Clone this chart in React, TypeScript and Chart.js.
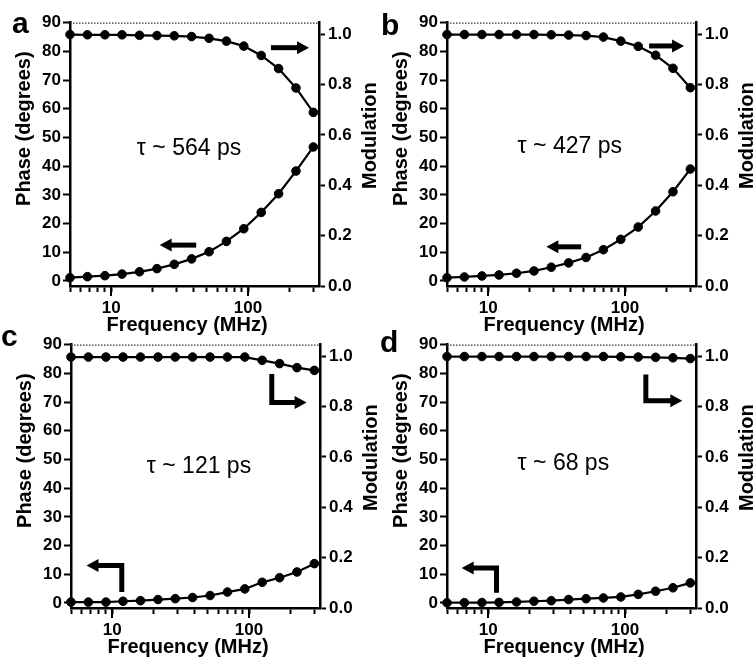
import React, { useEffect, useRef } from 'react';
import { Chart, registerables } from 'chart.js';
Chart.register(...registerables);

// ---------- data ----------
const FREQ_MHZ = [5, 6.7, 9, 12, 16.1, 21.6, 28.9, 38.7, 51.9, 69.5, 93.1, 124.8, 167.2, 224, 300];

const PHASE_A = [1.15, 1.5, 1.85, 2.4, 3.2, 4.3, 5.8, 7.7, 10.2, 13.8, 18.2, 23.9, 30.4, 38.3, 46.7];
const MOD_A = [0.998, 0.997, 0.997, 0.997, 0.995, 0.994, 0.993, 0.99, 0.983, 0.972, 0.952, 0.915, 0.863, 0.786, 0.689];

const PHASE_B = [1.15, 1.4, 1.75, 2.1, 2.7, 3.5, 4.8, 6.3, 8.2, 10.9, 14.5, 18.8, 24.4, 31.1, 39.0];
const MOD_B = [0.998, 0.998, 0.998, 0.998, 0.998, 0.998, 0.997, 0.996, 0.994, 0.988, 0.972, 0.951, 0.916, 0.864, 0.787];

const PHASE_C = [0.3, 0.3, 0.3, 0.6, 0.8, 1.2, 1.5, 1.9, 2.6, 3.8, 4.9, 7.2, 8.8, 10.8, 13.7];
const MOD_C = [0.996, 0.996, 0.996, 0.996, 0.996, 0.996, 0.996, 0.996, 0.996, 0.996, 0.996, 0.983, 0.97, 0.954, 0.943];

const PHASE_D = [0.1, 0.1, 0.15, 0.2, 0.35, 0.6, 0.8, 1.2, 1.5, 1.75, 2.1, 3.0, 4.1, 5.3, 7.0];
const MOD_D = [0.998, 0.998, 0.998, 0.998, 0.998, 0.998, 0.998, 0.998, 0.998, 0.998, 0.997, 0.996, 0.995, 0.993, 0.99];

const PHASE_TICKS = [0, 10, 20, 30, 40, 50, 60, 70, 80, 90];
const MOD_TICKS = [0, 0.2, 0.4, 0.6, 0.8, 1.0];
const FREQ_TICKS = [5, 6, 7, 8, 9, 10, 20, 30, 40, 50, 60, 70, 80, 90, 100, 200, 300];
const FREQ_LABELS = [10, 100];

const LETTERS = ['a', 'b', 'c', 'd'];
const LIFETIMES = ['τ ~ 564 ps', 'τ ~ 427 ps', 'τ ~ 121 ps', 'τ ~ 68 ps'];
// text anchor in [frequency, phase]
const TAU_POS = [[15.4, 43.9], [16.4, 44.6], [17.9, 45.2], [16.4, 46.3]];

// arrows as polylines in [frequency, phase]; last point is the tip
const ARROWS_A = [[[147, 81.3], [279, 81.3]], [[41.8, 12.5], [22.6, 12.5]]];
const ARROWS_B = [[[150, 81.9], [270, 81.9]], [[47.8, 11.9], [26.6, 11.9]]];
const ARROWS_C = [[[146.6, 79.8], [146.6, 69.9], [263.6, 69.9]], [[11.75, 3.8], [11.75, 13.1], [6.49, 13.1]]];
const ARROWS_D = [[[141.9, 79.6], [141.9, 70.5], [262, 70.5]], [[11.5, 3.6], [11.5, 12.2], [6.4, 12.2]]];

const FONT = "'Liberation Sans', Arial, Helvetica, sans-serif";

const CANVAS_W = 385;
const CANVAS_H = 340;

type PanelDef = {
  letter: string;
  letterPos: [number, number];
  tau: string;
  tauPos: number[];
  phase: number[];
  mod: number[];
  arrows: number[][][];
  left: number;
  top: number;
};

const PANELS: PanelDef[] = [
  { letter: LETTERS[0], letterPos: [12, 33], tau: LIFETIMES[0], tauPos: TAU_POS[0], phase: PHASE_A, mod: MOD_A, arrows: ARROWS_A, left: 0, top: 0 },
  { letter: LETTERS[1], letterPos: [4, 35], tau: LIFETIMES[1], tauPos: TAU_POS[1], phase: PHASE_B, mod: MOD_B, arrows: ARROWS_B, left: 377, top: 0 },
  { letter: LETTERS[2], letterPos: [0, 24], tau: LIFETIMES[2], tauPos: TAU_POS[2], phase: PHASE_C, mod: MOD_C, arrows: ARROWS_C, left: 1, top: 322 },
  { letter: LETTERS[3], letterPos: [3, 30], tau: LIFETIMES[3], tauPos: TAU_POS[3], phase: PHASE_D, mod: MOD_D, arrows: ARROWS_D, left: 377, top: 322 },
];

function overlayPlugin(p: PanelDef) {
  return {
    id: 'overlay' + p.letter,
    afterDraw(chart: any) {
      const { ctx, chartArea: ca, scales } = chart;
      const xs = scales.x;
      const ys = scales.y;
      ctx.save();
      // dotted top frame
      ctx.strokeStyle = '#333';
      ctx.lineWidth = 1.3;
      ctx.setLineDash([1.5, 1.5]);
      ctx.beginPath();
      ctx.moveTo(ca.left, ca.top + 0.5);
      ctx.lineTo(ca.right, ca.top + 0.5);
      ctx.stroke();
      ctx.setLineDash([]);
      // longer major x ticks
      ctx.strokeStyle = '#000';
      ctx.lineWidth = 2;
      FREQ_LABELS.forEach((v) => {
        const px = Math.round(xs.getPixelForValue(v));
        ctx.beginPath();
        ctx.moveTo(px, ca.bottom);
        ctx.lineTo(px, ca.bottom + 10);
        ctx.stroke();
      });
      // axis titles
      ctx.fillStyle = '#000';
      ctx.font = `bold 20px ${FONT}`;
      ctx.textAlign = 'center';
      ctx.textBaseline = 'alphabetic';
      ctx.fillText('Frequency (MHz)', ca.left + 117, ca.bottom + 45);
      ctx.save();
      ctx.translate(ca.left - 40, ca.top + 106);
      ctx.rotate(-Math.PI / 2);
      ctx.fillText('Phase (degrees)', 0, 0);
      ctx.restore();
      ctx.save();
      ctx.translate(ca.right + 57, ca.top + 113);
      ctx.rotate(-Math.PI / 2);
      ctx.fillText('Modulation', 0, 0);
      ctx.restore();
      // panel letter
      ctx.font = `bold 30px ${FONT}`;
      ctx.textAlign = 'left';
      ctx.fillText(p.letter, p.letterPos[0], p.letterPos[1]);
      // lifetime text
      ctx.font = `23px ${FONT}`;
      ctx.fillText(p.tau, xs.getPixelForValue(p.tauPos[0]), ys.getPixelForValue(p.tauPos[1]));
      // arrows
      ctx.lineWidth = 5;
      ctx.lineCap = 'butt';
      ctx.lineJoin = 'miter';
      p.arrows.forEach((arr) => {
        const pts = arr.map(([f, ph]) => [xs.getPixelForValue(f), ys.getPixelForValue(ph)]);
        const n = pts.length;
        const tip = pts[n - 1];
        const prev = pts[n - 2];
        const dx = tip[0] - prev[0];
        const dy = tip[1] - prev[1];
        const len = Math.hypot(dx, dy) || 1;
        const ux = dx / len;
        const uy = dy / len;
        const HEAD = 12;
        const HALF = 6.5;
        const base = [tip[0] - ux * HEAD, tip[1] - uy * HEAD];
        ctx.beginPath();
        ctx.moveTo(pts[0][0], pts[0][1]);
        for (let i = 1; i < n - 1; i++) ctx.lineTo(pts[i][0], pts[i][1]);
        ctx.lineTo(base[0] + ux * 1, base[1] + uy * 1);
        ctx.stroke();
        ctx.beginPath();
        ctx.moveTo(tip[0], tip[1]);
        ctx.lineTo(base[0] - uy * HALF, base[1] + ux * HALF);
        ctx.lineTo(base[0] + uy * HALF, base[1] - ux * HALF);
        ctx.closePath();
        ctx.fill();
      });
      ctx.restore();
    },
  };
}

function Panel({ p }: { p: PanelDef }) {
  const ref = useRef<HTMLCanvasElement | null>(null);
  useEffect(() => {
    if (!ref.current) return;
    const tickFont = { family: FONT, size: 17, weight: 'bold' as const };
    const axisCommon = {
      border: { display: true, color: '#000', width: 2.5 },
    };
    const chart = new Chart(ref.current, {
      type: 'line',
      data: {
        datasets: [
          {
            label: 'Phase',
            data: FREQ_MHZ.map((f, i) => ({ x: f, y: p.phase[i] })),
            yAxisID: 'y',
            borderColor: '#000',
            backgroundColor: '#000',
            borderWidth: 2.2,
            pointRadius: 4.3,
            pointBackgroundColor: '#000',
            pointBorderColor: '#000',
            pointBorderWidth: 1,
            tension: 0,
            clip: false as any,
          },
          {
            label: 'Modulation',
            data: FREQ_MHZ.map((f, i) => ({ x: f, y: p.mod[i] })),
            yAxisID: 'y1',
            borderColor: '#000',
            backgroundColor: '#000',
            borderWidth: 2.2,
            pointRadius: 4.3,
            pointBackgroundColor: '#000',
            pointBorderColor: '#000',
            pointBorderWidth: 1,
            tension: 0,
            clip: false as any,
          },
        ],
      },
      options: {
        responsive: false,
        animation: false,
        devicePixelRatio: 1,
        layout: { padding: { top: 22.7, left: 0, right: 0, bottom: 0 } },
        plugins: { legend: { display: false }, tooltip: { enabled: false } },
        scales: {
          x: {
            type: 'logarithmic',
            position: 'bottom',
            min: 5,
            max: 330,
            afterBuildTicks: (s: any) => {
              s.ticks = FREQ_TICKS.map((v) => ({ value: v }));
            },
            afterFit: (s: any) => {
              s.height = CANVAS_H - 286;
            },
            ticks: {
              autoSkip: false,
              maxRotation: 0,
              minRotation: 0,
              padding: 6,
              color: '#000',
              font: tickFont,
              callback: (v: any) => (FREQ_LABELS.includes(Number(v)) ? String(v) : ''),
            },
            grid: { drawOnChartArea: false, drawTicks: true, tickLength: 6, tickWidth: 2, tickColor: '#000' },
            ...axisCommon,
          },
          y: {
            type: 'linear',
            position: 'left',
            min: -1.75,
            max: 90,
            afterBuildTicks: (s: any) => {
              s.ticks = PHASE_TICKS.map((v) => ({ value: v }));
            },
            afterFit: (s: any) => {
              s.width = 70;
            },
            ticks: { padding: 2, color: '#000', font: tickFont, callback: (v: any) => String(v) },
            grid: { drawOnChartArea: false, drawTicks: true, tickLength: 7, tickWidth: 2, tickColor: '#000' },
            ...axisCommon,
          },
          y1: {
            type: 'linear',
            position: 'right',
            min: 0,
            max: 1.045,
            afterBuildTicks: (s: any) => {
              s.ticks = MOD_TICKS.map((v) => ({ value: v }));
            },
            afterFit: (s: any) => {
              s.width = CANVAS_W - 70 - 249;
            },
            ticks: { padding: 3, color: '#000', font: tickFont, callback: (v: any) => Number(v).toFixed(1) },
            grid: { drawOnChartArea: false, drawTicks: true, tickLength: 6, tickWidth: 2, tickColor: '#000' },
            ...axisCommon,
          },
        },
      } as any,
      plugins: [overlayPlugin(p)],
    });
    return () => chart.destroy();
  }, [p]);
  return (
    <canvas
      ref={ref}
      width={CANVAS_W}
      height={CANVAS_H}
      style={{ position: 'absolute', left: p.left, top: p.top, width: CANVAS_W, height: CANVAS_H }}
    />
  );
}

export default function App() {
  return (
    <div
      style={{
        position: 'fixed',
        left: 0,
        top: 0,
        width: 753,
        height: 658,
        overflow: 'hidden',
        background: '#fff',
      }}
    >
      {PANELS.map((p) => (
        <Panel key={p.letter} p={p} />
      ))}
    </div>
  );
}
